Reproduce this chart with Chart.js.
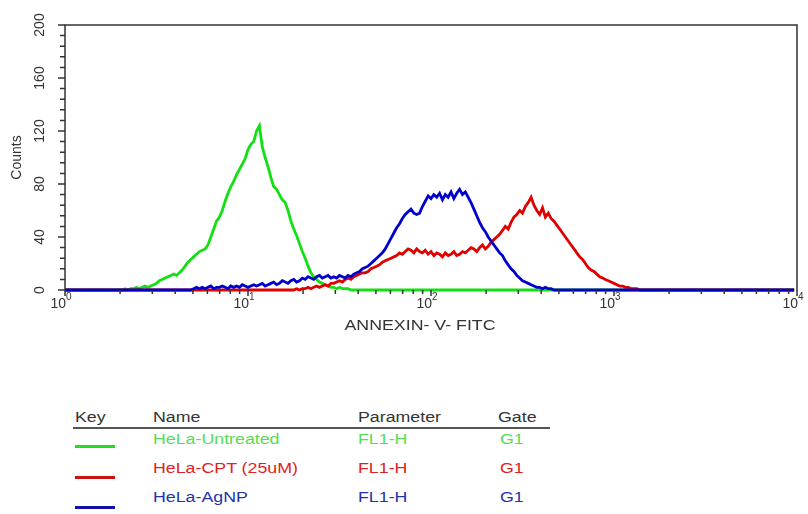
<!DOCTYPE html>
<html lang="en">
<head>
<meta charset="UTF-8">
<script src="https://cdn.jsdelivr.net/npm/chart.js"></script>
<title>Annexin V histogram</title>
<style>
  body { margin: 0; background: #fff; font-family: "Liberation Sans", Arial, sans-serif; }
  #wrap { position: absolute; left: 0; top: 0; width: 808px; height: 340px; }
  .t { position: absolute; font-size: 14px; line-height: 16px; white-space: nowrap;
       transform: scaleX(1.27); transform-origin: left center; }
  .hd { color: #333; }
  .key { position: absolute; left: 75px; width: 40px; height: 3px; }
</style>
</head>
<body>
<div id="wrap"><canvas id="grafico"></canvas></div>

<div class="t hd" style="left:75px;top:409px">Key</div>
<div class="t hd" style="left:153px;top:409px">Name</div>
<div class="t hd" style="left:358px;top:409px">Parameter</div>
<div class="t hd" style="left:498px;top:409px">Gate</div>
<div style="position:absolute;left:73px;top:427px;width:477px;height:2px;background:#555"></div>

<div class="key" style="top:445px;background:#22dd22"></div>
<div class="t" style="left:153px;top:431px;color:#55dd55">HeLa-Untreated</div>
<div class="t" style="left:358px;top:431px;color:#55dd55">FL1-H</div>
<div class="t" style="left:500px;top:431px;color:#55dd55">G1</div>

<div class="key" style="top:476px;background:#cc1111"></div>
<div class="t" style="left:153px;top:460px;color:#dd2222">HeLa-CPT (25uM)</div>
<div class="t" style="left:358px;top:460px;color:#dd2222">FL1-H</div>
<div class="t" style="left:500px;top:460px;color:#dd2222">G1</div>

<div class="key" style="top:506px;background:#1111aa"></div>
<div class="t" style="left:153px;top:489px;color:#2233aa">HeLa-AgNP</div>
<div class="t" style="left:358px;top:489px;color:#2233aa">FL1-H</div>
<div class="t" style="left:500px;top:489px;color:#2233aa">G1</div>

<script>
// histogram channels: 256 channels over 4 decades (64 per decade)
const CHANNELS = 256
const PER_DECADE = 64

// counts per channel, each series starts at its own channel
const greenStart = 20
const greenCounts = [0,1,0,1,1,2,1,2,3,2,3,4,5,7,8,9,10,11,12,11,13,15,18,21,23,25,27,29,30,31,
  34,40,46,52,55,60,67,73,78,82,87,91,95,99,106,110,112,120,124,108,100,93,85,78,76,72,68,66,60,52,
  46,41,35,29,24,18,13,10,8,6,5,4,3,2,2,1,2,1,1,1,0]

const redStart = 80
const redCounts = [0,1,0,1,1,2,1,2,3,2,3,4,3,5,5,6,7,6,8,9,8,10,11,12,13,13,14,16,17,18,
  19,21,22,23,24,25,26,28,27,29,31,30,28,31,29,28,30,27,29,26,28,27,25,28,26,27,29,26,27,29,
  28,30,32,31,29,32,34,31,33,36,38,40,42,45,48,46,51,55,57,60,58,63,66,70,64,60,57,62,55,58,
  54,52,49,46,43,40,37,34,31,28,25,23,20,17,15,14,12,10,9,8,7,6,5,4,3,3,2,2,1,1,1,0]

const blueStart = 45
const blueCounts = [1,2,1,2,1,2,3,1,2,2,3,2,1,3,2,3,2,4,3,2,3,4,3,4,5,3,4,5,6,4,
  5,7,6,5,7,8,6,7,9,8,10,9,8,10,11,9,10,11,9,10,9,11,10,9,11,10,12,13,14,16,
  17,18,20,22,24,26,28,31,35,39,43,47,50,54,57,59,61,58,57,58,63,67,71,69,72,70,73,68,72,70,
  74,69,73,76,72,74,70,66,61,56,51,47,44,40,37,34,31,28,26,22,19,16,14,11,9,7,6,5,4,3,
  2,2,1,2,1,1]

const xTickDecades = [0, 1, 2, 3, 4]
const yTickLabels = [0, 40, 80, 120, 160, 200]

function serie(start, counts){
  var pts = []
  for (var ch = 0; ch < CHANNELS; ch++){
    var i = ch - start
    var c = (i >= 0 && i < counts.length) ? counts[i] : 0
    pts.push({ x: Math.pow(10, ch / PER_DECADE), y: c })
  }
  return pts
}

const fonte = '"Liberation Sans", Arial, sans-serif'

const eixos = {
  id: 'eixos',
  afterDraw(chart){
    const ctx = chart.ctx
    const a = chart.chartArea
    const x = chart.scales.x
    const y = chart.scales.y
    ctx.save()
    ctx.strokeStyle = '#333'
    ctx.lineWidth = 1.5
    ctx.beginPath()
    ctx.moveTo(a.left, a.bottom)
    ctx.lineTo(a.left, a.top)
    ctx.lineTo(a.right, a.top)
    ctx.lineTo(a.right, a.bottom)
    ctx.stroke()

    // x ticks: decades and 2..9 minors
    ctx.beginPath()
    for (var d = 0; d < 4; d++){
      for (var m = 1; m <= 9; m++){
        var px = x.getPixelForValue(m * Math.pow(10, d))
        ctx.moveTo(px, a.bottom)
        ctx.lineTo(px, a.bottom + (m == 1 ? 6 : 4))
      }
    }
    var pEnd = x.getPixelForValue(10000)
    ctx.moveTo(pEnd, a.bottom); ctx.lineTo(pEnd, a.bottom + 6)

    // y ticks every 8, major every 40
    for (var v = 0; v <= 200; v += 8){
      var py = y.getPixelForValue(v)
      ctx.moveTo(a.left, py)
      ctx.lineTo(a.left - (v % 40 == 0 ? 7 : 5), py)
    }
    ctx.stroke()

    ctx.fillStyle = '#333'
    // x labels 10^n
    xTickDecades.forEach(function(d){
      var px = x.getPixelForValue(Math.pow(10, d))
      ctx.font = '14px ' + fonte
      ctx.textAlign = 'right'
      ctx.textBaseline = 'middle'
      ctx.fillText('10', px + 1, 304)
      ctx.font = '10px ' + fonte
      ctx.textAlign = 'left'
      ctx.fillText(String(d), px + 1, 297)
    })

    // y labels, rotated
    ctx.font = '14px ' + fonte
    ctx.textAlign = 'center'
    ctx.textBaseline = 'middle'
    yTickLabels.forEach(function(v){
      ctx.save()
      ctx.translate(40, y.getPixelForValue(v))
      ctx.rotate(-Math.PI / 2)
      ctx.fillText(String(v), 0, 0)
      ctx.restore()
    })

    // axis titles
    ctx.save()
    ctx.translate(17, (a.top + a.bottom) / 2)
    ctx.rotate(-Math.PI / 2)
    ctx.fillText('Counts', 0, 0)
    ctx.restore()

    ctx.save()
    ctx.translate(420, 326)
    ctx.scale(1.27, 1)
    ctx.fillText('ANNEXIN- V- FITC', 0, 0)
    ctx.restore()

    ctx.restore()
  }
}

const ctx = document.getElementById('grafico')

var grafico = new Chart(ctx, {
  type: 'line',
  data: {
    datasets: [
      { label: 'HeLa-Untreated', data: serie(greenStart, greenCounts), borderColor: '#11e011', order: 2 },
      { label: 'HeLa-CPT (25uM)', data: serie(redStart, redCounts), borderColor: '#e00000', order: 1 },
      { label: 'HeLa-AgNP', data: serie(blueStart, blueCounts), borderColor: '#0000cc', order: 0 }
    ]
  },
  options: {
    responsive: true,
    maintainAspectRatio: false,
    animation: false,
    elements: {
      line: { borderWidth: 2.8, tension: 0 },
      point: { radius: 0 }
    },
    datasets: { line: { clip: 3 } },
    layout: { padding: { left: 0, top: 25, right: 11, bottom: 0 } },
    plugins: {
      legend: { display: false },
      tooltip: { enabled: false }
    },
    scales: {
      x: {
        type: 'logarithmic',
        min: 1,
        max: 10000,
        ticks: { display: false },
        grid: { display: false },
        border: { display: false },
        afterFit: function(s){ s.height = 50 }
      },
      y: {
        min: 0,
        max: 200,
        ticks: { display: false },
        grid: { display: false },
        border: { display: false },
        afterFit: function(s){ s.width = 65 }
      }
    }
  },
  plugins: [eixos]
});
</script>
</body>
</html>
